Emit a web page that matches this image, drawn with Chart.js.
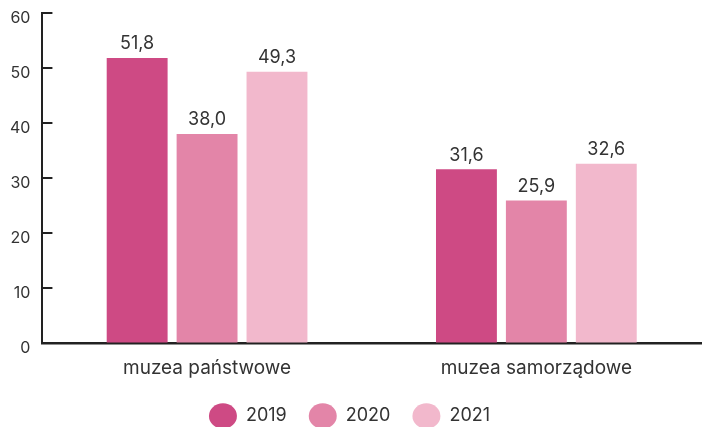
<!DOCTYPE html>
<html>
<head>
<meta charset="utf-8">
<script src="https://cdn.jsdelivr.net/npm/chart.js@4"></script>
<style>
    html, body { margin: 0; padding: 0; background: #fff; }
    #wrap { width: 703px; height: 427px; }
</style>
</head>
<body>
<div id="wrap"><canvas id="chart"></canvas></div>
<script>
const categories = ['muzea państwowe', 'muzea samorządowe'];
const years = ['2019', '2020', '2021'];
const values2019 = [51.8, 31.6];
const values2020 = [38.0, 25.9];
const values2021 = [49.3, 32.6];
const yTicks = [0, 10, 20, 30, 40, 50, 60];

const colors = ['#ce4a84', '#e385a8', '#f2b8cc'];
const textColor = '#333333';
const axisColor = '#222222';
const fontFamily = 'Inter, Roboto, sans-serif';

// value labels above each bar, with a decimal comma
const valueLabels = {
    id: 'valueLabels',
    afterDatasetsDraw(chart) {
        const ctx = chart.ctx;
        ctx.save();
        ctx.font = '18px ' + fontFamily;
        ctx.fillStyle = textColor;
        ctx.textAlign = 'center';
        ctx.textBaseline = 'bottom';
        chart.data.datasets.forEach((ds, i) => {
            chart.getDatasetMeta(i).data.forEach((bar, j) => {
                ctx.fillText(ds.data[j].toFixed(1).replace('.', ','), bar.x, bar.y - 5);
            });
        });
        ctx.restore();
    }
};

// short tick marks pointing into the plot from the y axis
const innerTicks = {
    id: 'innerTicks',
    afterDraw(chart) {
        const ctx = chart.ctx;
        const y = chart.scales.y;
        const left = chart.chartArea.left;
        ctx.save();
        ctx.strokeStyle = axisColor;
        ctx.lineWidth = 2;
        y.ticks.forEach(t => {
            const py = Math.round(y.getPixelForValue(t.value));
            ctx.beginPath();
            ctx.moveTo(left, py);
            ctx.lineTo(left + 10, py);
            ctx.stroke();
        });
        ctx.restore();
    }
};

new Chart(document.getElementById('chart'), {
    type: 'bar',
    data: {
        labels: categories,
        datasets: [values2019, values2020, values2021].map((d, i) => ({
            label: years[i],
            data: d,
            backgroundColor: colors[i],
            categoryPercentage: 0.637,
            barPercentage: 0.871
        }))
    },
    options: {
        responsive: true,
        maintainAspectRatio: false,
        animation: false,
        layout: { padding: { top: 13, right: 2, left: -2, bottom: -8 } },
        scales: {
            x: {
                grid: { display: false },
                border: { color: axisColor, width: 2.5 },
                ticks: { color: textColor, font: { family: fontFamily, size: 19, lineHeight: 0.95 }, padding: 8 }
            },
            y: {
                min: 0,
                max: 60,
                afterBuildTicks(scale) {
                    scale.ticks = yTicks.map(v => ({ value: v }));
                },
                afterFit(scale) {
                    scale.paddingTop = 0;
                },
                grid: { drawOnChartArea: false, drawTicks: false },
                border: { color: axisColor, width: 2 },
                ticks: { color: textColor, font: { family: fontFamily, size: 16 }, padding: 12, labelOffset: 5 }
            }
        },
        plugins: {
            legend: {
                position: 'bottom',
                labels: {
                    usePointStyle: true,
                    pointStyle: 'circle',
                    pointStyleWidth: 28,
                    boxHeight: 19,
                    padding: 22,
                    color: textColor,
                    font: { family: fontFamily, size: 18 }
                }
            },
            tooltip: { enabled: false }
        }
    },
    plugins: [valueLabels, innerTicks]
});
</script>
</body>
</html>
